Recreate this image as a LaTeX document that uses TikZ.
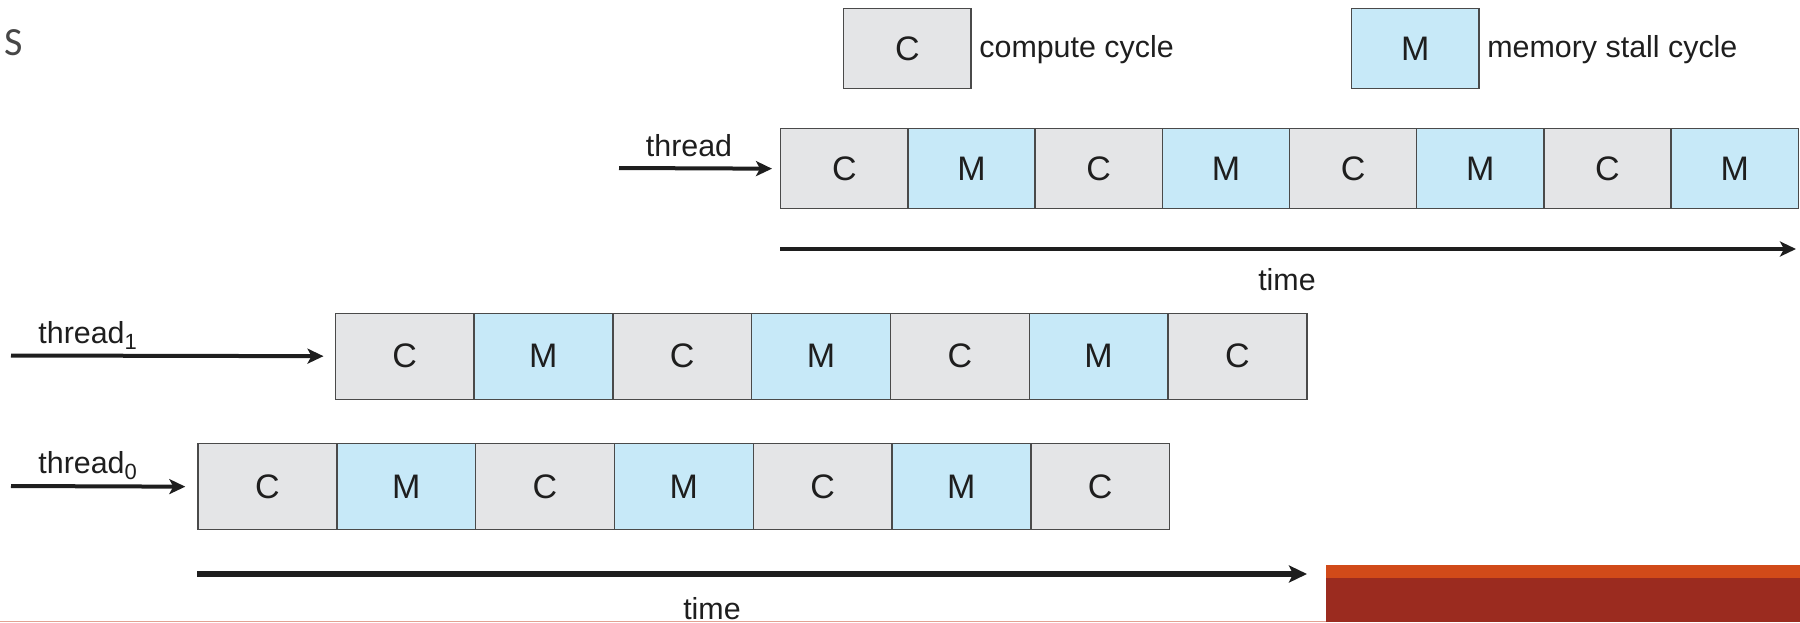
\documentclass[tikz,border=0pt]{standalone}
\usepackage{fontspec}
\setmainfont{Liberation Sans}
\newfontfamily\slidefont{Carlito}
\usetikzlibrary{arrows.meta}
\definecolor{cyc}{HTML}{E4E5E7}
\definecolor{stall}{HTML}{C7E9F8}
\definecolor{edge}{HTML}{4A4A4A}
\definecolor{ink}{HTML}{1E1E1E}
\definecolor{bandtop}{HTML}{D14A19}
\definecolor{bandmain}{HTML}{9B2B1F}
\definecolor{rule}{HTML}{E2A293}
\newcommand{\sub}[1]{\raisebox{-0.4ex}{\fontsize{11}{11}\selectfont #1}}
\begin{document}
\begin{tikzpicture}[x=0.5pt,y=-0.5pt,
  cell/.style={draw=edge, line width=0.7pt, inner sep=0pt, anchor=north west,
    text=ink, font=\fontsize{17}{17}\selectfont},
  topcell/.style={cell, minimum width=63.6pt, minimum height=40pt},
  lowcell/.style={cell, minimum width=69.4pt, minimum height=43pt},
  lbl/.style={inner sep=0pt, text=ink, font=\fontsize{15.2}{18}\selectfont},
  flow/.style={draw=ink, line width=2pt, -{Stealth[length=8pt,width=7.5pt,inset=2pt]}},
  timeline/.style={flow, line width=2pt},
  bigtime/.style={flow, line width=2.6pt, -{Stealth[length=9pt,width=8.5pt,inset=2pt]}},
]
\useasboundingbox (0,0) rectangle (1800,622);

% slide leftovers: stray heading letter and footer band
\node[anchor=base west, inner sep=0pt, text=black!72, font=\slidefont\fontsize{20}{24}\selectfont] (slideS) at (4,55) {S};
\fill[rule] (0,620.5) rectangle (1326,622);
\fill[bandmain] (1326,565) rectangle (1800,622);
\fill[bandtop] (1326,565) rectangle (1800,578);

% legend
\node[topcell, fill=cyc] (legC) at (843,8) {C};
\node[lbl, anchor=west] (legCtxt) at (979,50) {compute cycle};
\node[topcell, fill=stall] (legM) at (1351,8) {M};
\node[lbl, anchor=west] (legMtxt) at (1487,50) {memory stall cycle};

% single thread
\foreach \i/\t/\f in {0/C/cyc,1/M/stall,2/C/cyc,3/M/stall,4/C/cyc,5/M/stall,6/C/cyc,7/M/stall}
  \node[topcell, fill=\f] (top\i) at (780+127.2*\i,128) {\t};
\coordinate (topin) at (619,168);
\draw[flow, shorten >=4pt] (topin) -- (top0.west);
\node[lbl, anchor=base] (toplbl) at (689,156) {thread};
\coordinate (toptimeA) at (780,249);
\coordinate (toptimeB) at (1796,249);
\draw[timeline] (toptimeA) -- (toptimeB);
\node[lbl, anchor=base] (toptime) at (1287,290) {time};

% thread 1
\foreach \i/\t/\f in {0/C/cyc,1/M/stall,2/C/cyc,3/M/stall,4/C/cyc,5/M/stall,6/C/cyc}
  \node[lowcell, fill=\f] (one\i) at (334.5+138.8*\i,312.5) {\t};
\coordinate (onein) at (11,355.5);
\draw[flow, shorten >=5.5pt] (onein) -- (one0.west);
\node[lbl, anchor=base west] (onelbl) at (38,343) {thread\sub{1}};

% thread 0
\foreach \i/\t/\f in {0/C/cyc,1/M/stall,2/C/cyc,3/M/stall,4/C/cyc,5/M/stall,6/C/cyc}
  \node[lowcell, fill=\f] (zero\i) at (197.3+138.8*\i,443) {\t};
\coordinate (zeroin) at (11,486);
\draw[flow, shorten >=6pt] (zeroin) -- (zero0.west);
\node[lbl, anchor=base west] (zerolbl) at (38,473) {thread\sub{0}};

% shared time axis
\coordinate (lowtimeA) at (197.3,574);
\coordinate (lowtimeB) at (1307,574);
\draw[bigtime] (lowtimeA) -- (lowtimeB);
\node[lbl, anchor=base] (lowtime) at (712,619) {time};
\end{tikzpicture}
\end{document}
